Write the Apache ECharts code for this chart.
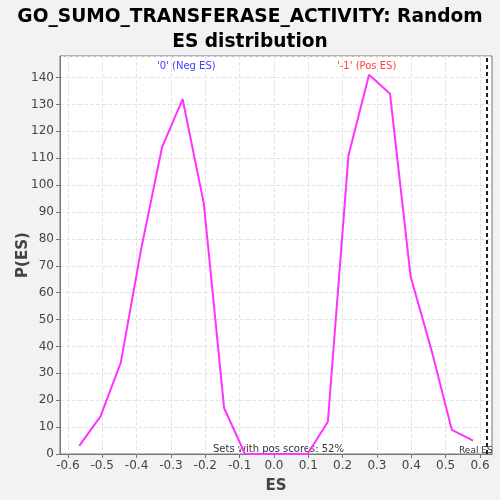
<!DOCTYPE html>
<html>
<head>
<meta charset="utf-8">
<script src="https://cdn.jsdelivr.net/npm/echarts@6/dist/echarts.min.js"></script>
<style>
html, body { margin: 0; padding: 0; background: #f2f2f2; }
#chart { width: 500px; height: 500px; }
</style>
</head>
<body>
<div id="chart"></div>
<script>
var esValues = [-0.567, -0.505, -0.446, -0.387, -0.326, -0.266, -0.204, -0.145, -0.084, -0.024, 0.037, 0.098, 0.157, 0.217, 0.277, 0.338, 0.398, 0.458, 0.518, 0.58];
var pValues = [3, 14, 34, 76, 114, 132, 93, 17, 0, 0, 0, 0, 12, 111, 141, 134, 66, 39, 9, 5];
var xTicks = [-0.6, -0.5, -0.4, -0.3, -0.2, -0.1, 0.0, 0.1, 0.2, 0.3, 0.4, 0.5, 0.6];
var realES = 0.621;

var myChart = echarts.init(document.getElementById('chart'));

var lineData = [];
for (var i = 0; i < esValues.length; i++) {
	lineData.push([esValues[i], pValues[i]]);
}

var option = {
	backgroundColor: '#f2f2f2',
	animation: false,
	title: {
		text: 'GO_SUMO_TRANSFERASE_ACTIVITY: Random\nES distribution',
		left: 'center',
		top: 0,
		textStyle: {
			fontFamily: 'DejaVu Sans',
			fontWeight: 'bold',
			fontSize: 18.6,
			lineHeight: 25,
			color: '#000'
		}
	},
	grid: {
		left: 60,
		right: 8,
		top: 56,
		bottom: 46,
		outerBoundsMode: 'none',
		show: true,
		backgroundColor: '#fff',
		borderColor: '#777',
		borderWidth: 1
	},
	xAxis: {
		type: 'value',
		min: -0.623,
		max: 0.635,
		name: 'ES',
		nameLocation: 'middle',
		nameGap: 25,
		nameTextStyle: { fontFamily: 'DejaVu Sans', fontWeight: 'bold', fontSize: 15, color: '#444' },
		axisLine: { show: true, onZero: false, lineStyle: { color: '#777' } },
		axisTick: { show: true, customValues: xTicks, length: 4, lineStyle: { color: '#777' } },
		axisLabel: {
			customValues: xTicks,
			fontFamily: 'DejaVu Sans',
			fontSize: 12,
			color: '#444',
			margin: 6,
			formatter: function (v) { return v.toFixed(1); }
		},
		splitLine: { show: true, lineStyle: { color: '#e4e4e4', type: 'dashed' } }
	},
	yAxis: {
		type: 'value',
		min: 0,
		max: 148,
		interval: 10,
		name: 'P(ES)',
		nameLocation: 'middle',
		nameGap: 29,
		nameMoveOverlap: false,
		nameTextStyle: { fontFamily: 'DejaVu Sans', fontWeight: 'bold', fontSize: 15, color: '#444' },
		axisLine: { show: true, onZero: false, lineStyle: { color: '#777' } },
		axisTick: { show: true, length: 4, lineStyle: { color: '#777' } },
		axisLabel: { fontFamily: 'DejaVu Sans', fontSize: 12, color: '#444', margin: 6, showMaxLabel: false },
		splitLine: { show: true, lineStyle: { color: '#e4e4e4', type: 'dashed' } }
	},
	graphic: [
		{
			type: 'text', left: 157, top: 61,
			style: { text: "'0' (Neg ES)", fill: '#4040ff', font: '10px DejaVu Sans' }
		},
		{
			type: 'text', left: 337, top: 61,
			style: { text: "'-1' (Pos ES)", fill: '#ff4040', font: '10px DejaVu Sans' }
		},
		{
			type: 'text', left: 213, top: 444,
			style: { text: 'Sets with pos scores: 52%', fill: '#333', font: '10px DejaVu Sans' }
		},
		{
			type: 'text', left: 459, top: 446,
			style: { text: 'Real ES', fill: '#333', font: '9px DejaVu Sans' }
		}
	],
	series: [
		{
			type: 'line',
			data: lineData,
			symbol: 'none',
			lineStyle: { color: '#ff33ff', width: 2 },
			markLine: {
				silent: true,
				symbol: 'none',
				label: { show: false },
				lineStyle: { color: '#222', type: [4, 3], width: 2 },
				data: [{ xAxis: realES }]
			}
		}
	]
};

myChart.setOption(option);
</script>
</body>
</html>
